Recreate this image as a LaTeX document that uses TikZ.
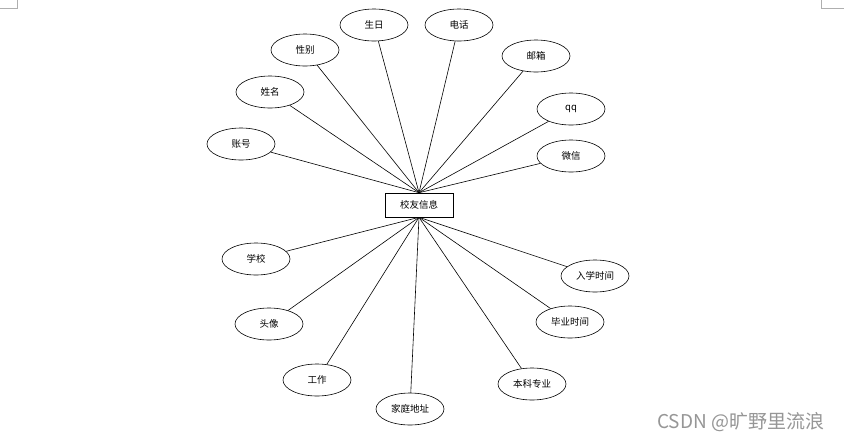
\documentclass[tikz,border=0pt]{standalone}
\usepackage{fontspec}
\newfontfamily\cjk{Noto Sans CJK SC}
\usetikzlibrary{shapes.geometric}
\definecolor{markgray}{RGB}{175,175,175}
\definecolor{wmgray}{RGB}{150,150,150}
\begin{document}
\begin{tikzpicture}[x=1pt,y=-1pt,
  attr/.style={draw,ellipse,line width=0.6pt,minimum width=68pt,minimum height=32pt,inner sep=0pt,font=\cjk\fontsize{9.5}{11}\selectfont},
  entity/.style={draw,rectangle,line width=0.6pt,minimum width=68pt,minimum height=24pt,inner sep=0pt,font=\cjk\fontsize{9.5}{11}\selectfont},
  link/.style={line width=0.6pt},
  cornermark/.style={draw=markgray,line width=0.6pt}]
\useasboundingbox (0,0) rectangle (844,440);
\fill[white] (0,0) rectangle (844,440);
% page corner marks
\draw[cornermark] (17,0) -- (17,8) -- (0,8);
\draw[cornermark] (821,0) -- (821,8) -- (844,8);

\node[entity] (e) at (419,205) {校友信息};

\node[attr] (zh) at (241,144) {账号};
\node[attr] (xm) at (270,92) {姓名};
\node[attr] (xb) at (305,50) {性别};
\node[attr] (sr) at (374,25) {生日};
\node[attr] (dh) at (459,25) {电话};
\node[attr] (yx) at (536,56) {邮箱};
\node[attr] (qq) at (571,109) {qq};
\node[attr] (wx) at (571,156) {微信};

\node[attr] (xx) at (256,259) {学校};
\node[attr] (rx) at (595,276) {入学时间};
\node[attr] (tx) at (269,324) {头像};
\node[attr] (by) at (570,322) {毕业时间};
\node[attr] (gz) at (317,380) {工作};
\node[attr] (jt) at (410,409) {家庭地址};
\node[attr] (bk) at (532,384) {本科专业};

\coordinate (top) at (e.north);
\coordinate (bot) at (e.south);

\foreach \a in {zh,xm,xb,sr,dh,yx,qq,wx} \draw[link] (\a) -- (top);
\foreach \a in {xx,rx,tx,by,gz,jt,bk} \draw[link] (\a) -- (bot);

\node[anchor=west,text=wmgray,font=\cjk\fontsize{19}{21}\selectfont,inner sep=0pt] (wm) at (657,422) {CSDN @旷野里流浪};
\end{tikzpicture}
\end{document}
